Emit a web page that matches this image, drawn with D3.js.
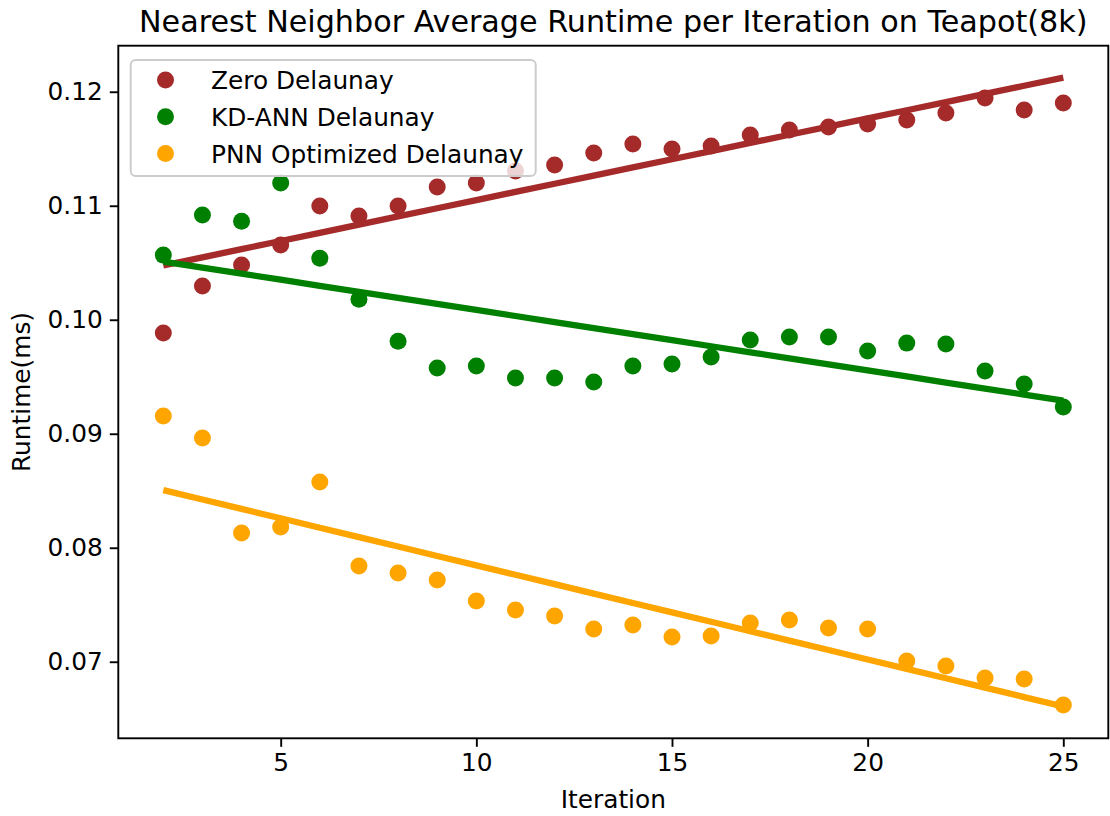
<!DOCTYPE html>
<html>
<head>
<meta charset="utf-8">
<script src="https://cdn.jsdelivr.net/npm/d3@7"></script>
<style>
  body { margin: 0; background: #fff; }
  text { font-family: "DejaVu Sans", sans-serif; fill: #000; }
</style>
</head>
<body>
<svg id="chart"></svg>
<script>
let width = 1110, height = 816
let margin = {left: 118.3, right: 1110 - 1108.3, top: 45.7, bottom: 816 - 738.3}

// data
let iterations = d3.range(2, 26)
let zeroDelaunay = [0.09883, 0.10296, 0.1048, 0.10655, 0.10997, 0.1091, 0.10997, 0.11164, 0.11199, 0.11304,
  0.11357, 0.11462, 0.11541, 0.11497, 0.11524, 0.1162, 0.11664, 0.1169, 0.11717, 0.11752, 0.11813, 0.11945, 0.1184, 0.11901]
let kdAnnDelaunay = [0.10567, 0.10918, 0.10865, 0.11199, 0.1054, 0.1018, 0.09812, 0.09576, 0.09594, 0.09489,
  0.09489, 0.09454, 0.09594, 0.09611, 0.09673, 0.09822, 0.09848, 0.09848, 0.09725, 0.09795, 0.09787, 0.0955, 0.09436, 0.09234]
let pnnDelaunay = [0.09155, 0.08962, 0.08129, 0.08182, 0.08577, 0.0784, 0.07778, 0.07717, 0.07533, 0.07454,
  0.07401, 0.07287, 0.07322, 0.07217, 0.07226, 0.0734, 0.07366, 0.07296, 0.07287, 0.07006, 0.06962, 0.06857, 0.06848, 0.0662]
let seriesNames = ['Zero Delaunay', 'KD-ANN Delaunay', 'PNN Optimized Delaunay']
let seriesColors = ['#a52a2a', '#008000', '#ffa500']
let xTicks = [5, 10, 15, 20, 25]
let yTicks = [0.07, 0.08, 0.09, 0.10, 0.11, 0.12]

let series = [zeroDelaunay, kdAnnDelaunay, pnnDelaunay]

let svg = d3.select('#chart').attr('width', width).attr('height', height)

let x = d3.scaleLinear().domain([0.85, 26.15]).range([margin.left, width - margin.right])
let y = d3.scaleLinear().domain([0.063285, 0.12404]).range([height - margin.bottom, margin.top])

// least squares fit, like np.polyfit(x, y, 1)
function fit(xs, ys){
  let mx = d3.mean(xs), my = d3.mean(ys)
  let b = d3.sum(xs, (v, i) => (v - mx) * (ys[i] - my)) / d3.sum(xs, v => (v - mx) * (v - mx))
  return xs.map(v => my + b * (v - mx))
}

let plot = svg.append('g')
series.forEach((vals, s) => {
  plot.append('g').selectAll('circle').data(vals).enter().append('circle')
    .attr('cx', (d, i) => x(iterations[i]))
    .attr('cy', d => y(d))
    .attr('r', 8.5)
    .attr('fill', seriesColors[s])
  let trend = fit(iterations, vals)
  plot.append('path')
    .datum(trend)
    .attr('d', d3.line().x((d, i) => x(iterations[i])).y(d => y(d)))
    .attr('fill', 'none')
    .attr('stroke', seriesColors[s])
    .attr('stroke-width', 6.3)
})

// axes
let xAxis = svg.append('g').attr('transform', `translate(0,${height - margin.bottom})`)
  .call(d3.axisBottom(x).tickValues(xTicks).tickSizeOuter(0).tickSize(8.5).tickPadding(7))
let yAxis = svg.append('g').attr('transform', `translate(${margin.left},0)`)
  .call(d3.axisLeft(y).tickValues(yTicks).tickFormat(d3.format('.2f')).tickSizeOuter(0).tickSize(8.5).tickPadding(7))
;[xAxis, yAxis].forEach(a => {
  a.select('.domain').remove()
  a.selectAll('line').attr('stroke', '#000').attr('stroke-width', 1.9)
  a.selectAll('text').style('font-size', '24.8px').style('font-family', '"DejaVu Sans", sans-serif').attr('fill', '#000')
})

svg.append('rect')
  .attr('x', margin.left).attr('y', margin.top)
  .attr('width', width - margin.left - margin.right)
  .attr('height', height - margin.top - margin.bottom)
  .attr('fill', 'none').attr('stroke', '#000').attr('stroke-width', 1.9)

// legend
let legend = svg.append('g')
legend.append('rect')
  .attr('x', 130.7).attr('y', 60).attr('width', 405).attr('height', 116)
  .attr('rx', 5).attr('fill', 'white').attr('fill-opacity', 0.8)
  .attr('stroke', '#cccccc').attr('stroke-width', 2)
seriesNames.forEach((name, i) => {
  legend.append('circle').attr('cx', 165.5).attr('cy', 80 + i * 36.8).attr('r', 8.5).attr('fill', seriesColors[i])
  legend.append('text').attr('x', 211).attr('y', 80 + i * 36.8).attr('dy', '0.36em')
    .style('font-size', '24.8px').text(name)
})

// titles
svg.append('text').attr('x', (margin.left + width - margin.right) / 2).attr('y', 32)
  .attr('text-anchor', 'middle').style('font-size', '30.2px')
  .text('Nearest Neighbor Average Runtime per Iteration on Teapot(8k)')
svg.append('text').attr('x', (margin.left + width - margin.right) / 2).attr('y', 808)
  .attr('text-anchor', 'middle').style('font-size', '24.8px').text('Iteration')
svg.append('text')
  .attr('transform', `translate(30,${(margin.top + height - margin.bottom) / 2}) rotate(-90)`)
  .attr('text-anchor', 'middle').style('font-size', '24.8px').text('Runtime(ms)')
</script>
</body>
</html>
